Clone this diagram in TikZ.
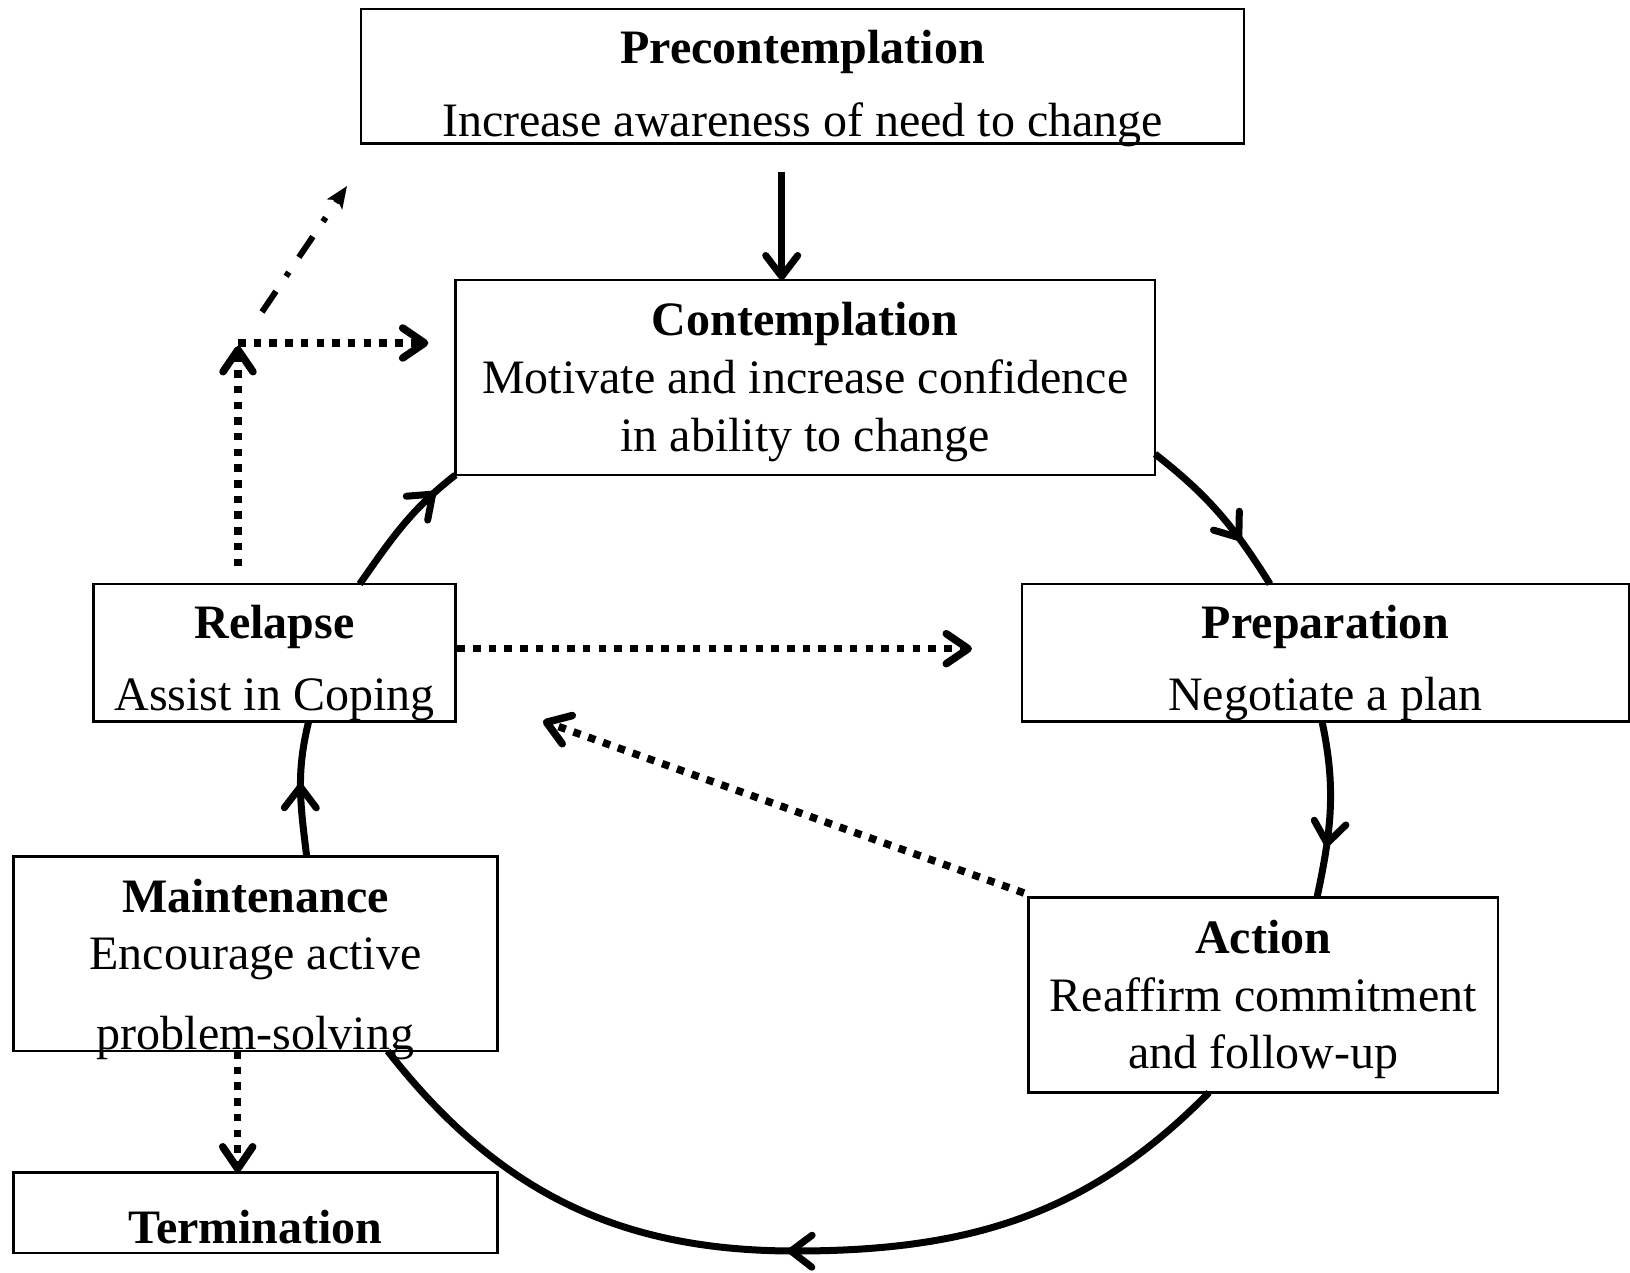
\documentclass[tikz,border=0pt]{standalone}
\usepackage{fontspec}
\setmainfont{Liberation Serif}
\usetikzlibrary{arrows.meta,decorations.markings,calc}
\tikzset{
  cbarb/.tip={Straight Barb[length=21pt,width=32pt,round]},
  dbarb/.tip={Straight Barb[length=22pt,width=30pt,round]},
  box/.style={draw,line width=2.5pt,inner sep=0pt,outer sep=0pt},
  txt/.style={anchor=base,inner sep=0pt,outer sep=0pt,font=\fontsize{48pt}{58pt}\selectfont},
  ttl/.style={txt,font=\fontsize{48pt}{58pt}\selectfont\bfseries},
  cyc/.style={line width=7pt},
  dotl/.style={line width=7.5pt,dash pattern=on 7.5pt off 8.2pt},
  dashdotl/.style={line width=6pt,dash pattern=on 25pt off 18pt on 5pt off 18pt},
  midarrow/.style={postaction={decorate},decoration={markings,mark=at position #1 with {\arrow[line width=7pt]{cbarb}}}},
}
\begin{document}
\begin{tikzpicture}[x=1pt,y=-1pt]
\useasboundingbox (0,0) rectangle (1630,1272);
% boxes
\node[box,minimum width=883pt,minimum height=134.5pt] (pre) at (802.5,76.25) {};
\node[box,minimum width=699.6pt,minimum height=195pt] (con) at (805.2,377.5) {};
\node[box,minimum width=361.7pt,minimum height=137.4pt] (rel) at (274.5,652.7) {};
\node[box,minimum width=607pt,minimum height=137.4pt] (prep) at (1325.5,652.7) {};
\node[box,minimum width=484.4pt,minimum height=194.5pt] (mai) at (255.5,953.75) {};
\node[box,minimum width=469.4pt,minimum height=195pt] (act) at (1263.3,995) {};
\node[box,minimum width=484.4pt,minimum height=80.5pt] (ter) at (255.5,1212.75) {};
% texts
\node[ttl] (preT) at (802.5,63.3) {Precontemplation};
\node[txt] (preS) at (802.5,136.7) {Increase awareness of need to change};
\node[ttl] (conT) at (805.2,335) {Contemplation};
\node[txt] (conS1) at (805.2,393.3) {Motivate and increase confidence};
\node[txt] (conS2) at (805.2,451.7) {in ability to change};
\node[ttl] (relT) at (274.5,638.3) {Relapse};
\node[txt] (relS) at (274.5,710) {Assist in Coping};
\node[ttl] (prepT) at (1325.5,638.3) {Preparation};
\node[txt] (prepS) at (1325.5,710) {Negotiate a plan};
\node[ttl] (maiT) at (255.5,912.7) {Maintenance};
\node[txt] (maiS1) at (255.5,969.3) {Encourage active};
\node[txt] (maiS2) at (255.5,1049.3) {problem-solving};
\node[ttl] (actT) at (1263.3,953.7) {Action};
\node[txt] (actS1) at (1263.3,1011) {Reaffirm commitment};
\node[txt] (actS2) at (1263.3,1068.7) {and follow-up};
\node[ttl] (terT) at (255.5,1243.3) {Termination};
% solid connectors
\draw[cyc,-{cbarb}] ([xshift=-20.8pt,yshift=-28pt]pre.south) -- ([xshift=-23.5pt]con.north);
\draw[cyc,midarrow=0.7] ([yshift=21pt]con.south east) to[out=-38,in=122] ([xshift=-55.5pt]prep.north);
\draw[cyc,midarrow=0.71] ([xshift=-3.5pt]prep.south) to[out=-78,in=78] ([xshift=53.7pt]act.north);
\coordinate (bot) at (795,1251);
\draw[cyc,midarrow=0.5] ([xshift=-54.3pt]act.south) to[out=225.5,in=0] (bot) to[out=180,in=-52] ([xshift=132.2pt]mai.south);
\draw[cyc,midarrow=0.54] ([xshift=51.2pt]mai.north) to[out=97,in=-104] ([xshift=34.2pt]rel.south);
\draw[cyc,midarrow=0.82] ([xshift=85.2pt]rel.north) to[out=55,in=218] (con.south west);
% dotted connectors
\coordinate (corner) at (238,343);
\draw[dotl,-{dbarb}] ([xshift=-36.5pt,yshift=18pt]rel.north) -- ([yshift=-3pt]corner);
\draw[dotl,-{dbarb}] (corner) -- ([xshift=-27pt,yshift=34.5pt]con.west);
\coordinate (dd1) at (262,312);
\coordinate (dd2) at (347,186);
\draw[dashdotl,-{Stealth[length=22pt,width=18pt,inset=5pt]}] (dd1) -- (dd2);
\draw[dotl,-{dbarb}] ([xshift=2pt,yshift=4pt]rel.east) -- ([xshift=-50pt,yshift=4pt]prep.west);
\coordinate (dtip) at (543,721);
\draw[dotl,-{dbarb}] ([xshift=-4.6pt,yshift=4.5pt]act.north west) -- (dtip);
\draw[dotl,-{dbarb}] ([xshift=-17.8pt]mai.south) -- ([xshift=-17.8pt]ter.north);
\end{tikzpicture}
\end{document}
